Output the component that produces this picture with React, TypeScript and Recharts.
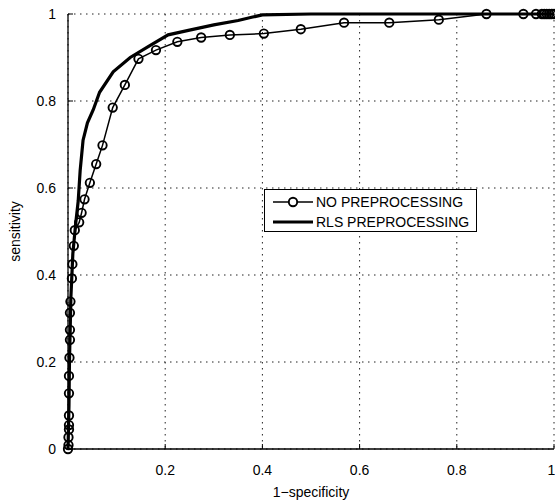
import React from 'react';
import { ComposedChart, Line, XAxis, YAxis, CartesianGrid } from 'recharts';

// NO PREPROCESSING ROC points (1-specificity, sensitivity)
const noPreFpr = [0, 0.001, 0.001, 0.002, 0.002, 0.002, 0.002, 0.002, 0.003, 0.004, 0.004, 0.004, 0.005, 0.008, 0.009, 0.012, 0.014, 0.023, 0.028, 0.034, 0.045, 0.058, 0.071, 0.092, 0.117, 0.145, 0.181, 0.225, 0.274, 0.333, 0.403, 0.479, 0.568, 0.661, 0.763, 0.861, 0.937, 0.963, 0.975, 0.98, 0.985, 0.99, 0.995, 1];
const noPreTpr = [0, 0.009, 0.027, 0.045, 0.055, 0.077, 0.128, 0.168, 0.21, 0.251, 0.274, 0.313, 0.339, 0.392, 0.425, 0.467, 0.503, 0.521, 0.543, 0.574, 0.612, 0.655, 0.698, 0.785, 0.837, 0.897, 0.917, 0.936, 0.946, 0.952, 0.955, 0.965, 0.98, 0.98, 0.987, 1, 1, 1, 1, 1, 1, 1, 1, 1];

// RLS PREPROCESSING ROC curve
const rlsFpr = [0, 0.002, 0.003, 0.006, 0.01, 0.016, 0.021, 0.025, 0.031, 0.04, 0.052, 0.065, 0.093, 0.128, 0.165, 0.206, 0.25, 0.3, 0.35, 0.38, 0.4, 0.5, 0.7, 1];
const rlsTpr = [0, 0.1, 0.2, 0.35, 0.45, 0.52, 0.57, 0.64, 0.71, 0.75, 0.78, 0.82, 0.867, 0.9, 0.925, 0.952, 0.963, 0.975, 0.985, 0.993, 0.998, 1, 1, 1];

const tickValues = [0, 0.2, 0.4, 0.6, 0.8, 1];
const seriesNames = ['NO PREPROCESSING', 'RLS PREPROCESSING'];
const xLabel = '1\u2212specificity';
const yLabel = 'sensitivity';

const noPreData = noPreFpr.map((x, i) => ({ x, y: noPreTpr[i] }));
const rlsData = rlsFpr.map((x, i) => ({ x, y: rlsTpr[i] }));

const FONT = '"Liberation Sans", Arial, Helvetica, sans-serif';
const tickStyle = { fontFamily: FONT, fontSize: 14, fill: '#000' };

const fmt = (v: number) => (v === 0 ? '0' : v === 1 ? '1' : String(v));

export default function App() {
  return (
    <div style={{ position: 'relative', width: 555, height: 504, background: '#fff' }}>
      <style>{'body{margin:0;background:#fff}'}</style>
      <ComposedChart width={555} height={504} margin={{ top: 14, right: 1, bottom: 15, left: 0 }}>
        <CartesianGrid stroke="#222" strokeDasharray="1.5 4.5" strokeWidth={1} />
        <XAxis
          xAxisId="top"
          orientation="top"
          type="number"
          dataKey="x"
          domain={[0, 1]}
          ticks={tickValues}
          height={0}
          tick={false}
          tickSize={-5}
          axisLine={{ stroke: '#000', strokeWidth: 1.3 }}
          tickLine={{ stroke: '#000' }}
        />
        <YAxis
          yAxisId="right"
          orientation="right"
          type="number"
          dataKey="y"
          domain={[0, 1]}
          ticks={tickValues}
          width={0}
          tick={false}
          tickSize={-5}
          axisLine={{ stroke: '#000', strokeWidth: 1.3 }}
          tickLine={{ stroke: '#000' }}
        />
        <XAxis
          type="number"
          dataKey="x"
          domain={[0, 1]}
          ticks={tickValues}
          tickFormatter={(v: number) => (v === 0 ? '' : fmt(v))}
          height={40}
          tickSize={-5}
          tickMargin={21}
          tick={tickStyle}
          axisLine={{ stroke: '#000', strokeWidth: 1.3 }}
          tickLine={{ stroke: '#000' }}
          label={{ value: xLabel, position: 'bottom', offset: -2, style: { fontFamily: FONT, fontSize: 14, fill: '#000' } }}
        />
        <YAxis
          type="number"
          dataKey="y"
          domain={[0, 1]}
          ticks={tickValues}
          tickFormatter={fmt}
          width={68}
          tickSize={-5}
          tickMargin={17}
          tick={tickStyle}
          axisLine={{ stroke: '#000', strokeWidth: 1.3 }}
          tickLine={{ stroke: '#000' }}
          label={{
            content: (props: any) => {
              const vb = props.viewBox || { x: 0, y: 14, width: 68, height: 435 };
              const cx = vb.x + 15;
              const cy = vb.y + vb.height / 2;
              return (
                <text
                  x={cx}
                  y={cy}
                  transform={`rotate(-90 ${cx} ${cy})`}
                  textAnchor="middle"
                  dominantBaseline="central"
                  style={{ fontFamily: FONT, fontSize: 14, fill: '#000' }}
                >
                  {yLabel}
                </text>
              );
            },
          }}
        />
        <Line
          data={rlsData}
          dataKey="y"
          name={seriesNames[1]}
          type="linear"
          stroke="#000"
          strokeWidth={3.2}
          dot={false}
          isAnimationActive={false}
        />
        <Line
          data={noPreData}
          dataKey="y"
          name={seriesNames[0]}
          type="linear"
          stroke="#000"
          strokeWidth={1.5}
          dot={{ r: 4.2, stroke: '#000', strokeWidth: 1.9, fill: 'none' }}
          isAnimationActive={false}
        />
      </ComposedChart>
      <div
        style={{
          position: 'absolute',
          left: 264,
          top: 189,
          width: 213,
          height: 43,
          boxSizing: 'border-box',
          border: '1.3px solid #000',
          background: '#fff',
          fontFamily: FONT,
          fontSize: 14,
          color: '#000',
        }}
      >
        {seriesNames.map((name, i) => (
          <div key={name} style={{ position: 'absolute', left: 0, top: i === 0 ? 2 : 22, height: 20, display: 'flex', alignItems: 'center' }}>
            <svg width={50} height={20} style={{ display: 'block' }}>
              <line x1={8} x2={48} y1={10} y2={10} stroke="#000" strokeWidth={i === 0 ? 1.5 : 3.2} />
              {i === 0 && <circle cx={28} cy={10} r={4.2} stroke="#000" strokeWidth={1.9} fill="#fff" />}
            </svg>
            <span style={{ marginLeft: 1, whiteSpace: 'nowrap', lineHeight: '20px' }}>{name}</span>
          </div>
        ))}
      </div>
    </div>
  );
}
